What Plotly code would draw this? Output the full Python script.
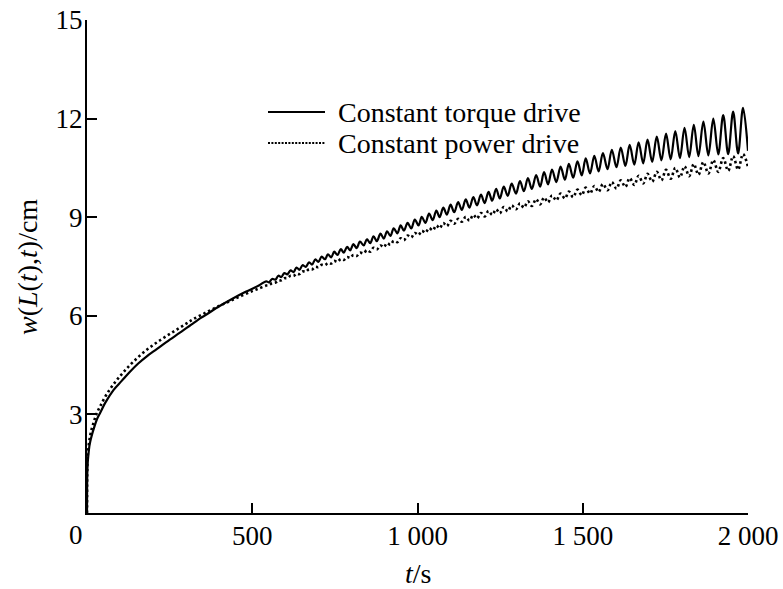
import plotly.graph_objects as go

# ---------------- data ----------------
# early, smooth part of each curve
t_start_torque = [0, 0.3, 0.6, 1, 2, 4, 7, 10, 15, 20, 30, 40, 55, 80, 105, 130, 155, 180,
                  210, 240, 280, 320, 342, 360, 400, 440, 480, 520]
w_start_torque = [0, 0.8, 1.05, 1.25, 1.5, 1.75, 2.02, 2.18, 2.38, 2.55, 2.85, 3.05, 3.35, 3.74,
                  4.02, 4.30, 4.55, 4.76, 4.98, 5.20, 5.48, 5.76, 5.92, 6.03, 6.29, 6.52, 6.73, 6.92]

t_start_power = [0, 0.3, 0.6, 1, 2, 4, 7, 10, 14, 20, 29, 40, 60, 85, 110, 140, 180, 220,
                 262, 300, 322, 360, 400, 433, 470, 500, 520]
w_start_power = [0, 0.9, 1.2, 1.45, 1.72, 1.95, 2.2, 2.37, 2.55, 2.75, 3.02, 3.25, 3.62, 3.98,
                 4.28, 4.6, 4.96, 5.25, 5.52, 5.76, 5.9, 6.1, 6.3, 6.45, 6.62, 6.75, 6.83]

# oscillating part: times of successive crests / troughs (shared by both curves)
t_wave = [542, 551, 560, 570, 579, 588, 597, 606, 616, 625, 634, 643, 652, 662, 672, 681, 691, 700,
          710, 720, 729, 739, 748, 758, 768, 777, 787, 796, 806, 816, 826, 837, 847, 857, 867, 877,
          888, 898, 908, 918, 928, 939, 949, 959, 970, 981, 992, 1003, 1013, 1024, 1035, 1046, 1057,
          1067, 1078, 1089, 1100, 1111, 1123, 1134, 1146, 1157, 1169, 1180, 1192, 1203, 1215, 1226,
          1238, 1249, 1261, 1273, 1285, 1298, 1310, 1322, 1334, 1346, 1359, 1371, 1383, 1395, 1407,
          1420, 1433, 1446, 1458, 1471, 1484, 1497, 1509, 1522, 1535, 1548, 1561, 1575, 1588, 1602,
          1615, 1629, 1642, 1656, 1669, 1683, 1696, 1710, 1724, 1738, 1752, 1766, 1780, 1794, 1808,
          1822, 1836, 1850, 1865, 1880, 1895, 1910, 1925, 1940, 1955, 1970, 1985, 2000]

w_wave_torque = [7.05, 7.02, 7.12, 7.10, 7.22, 7.18, 7.30, 7.26, 7.38, 7.33, 7.47, 7.40, 7.54, 7.49,
                 7.63, 7.56, 7.72, 7.64, 7.80, 7.72, 7.87, 7.78, 7.95, 7.85, 8.03, 7.92, 8.10, 7.99,
                 8.18, 8.06, 8.26, 8.14, 8.33, 8.21, 8.42, 8.27, 8.50, 8.35, 8.57, 8.43, 8.66, 8.51,
                 8.75, 8.59, 8.83, 8.66, 8.93, 8.75, 9.01, 8.83, 9.11, 8.91, 9.20, 9.00, 9.29, 9.08,
                 9.38, 9.15, 9.46, 9.22, 9.54, 9.29, 9.61, 9.36, 9.69, 9.43, 9.77, 9.50, 9.86, 9.57,
                 9.93, 9.65, 10.02, 9.72, 10.10, 9.79, 10.19, 9.86, 10.28, 9.93, 10.37, 10.00, 10.45,
                 10.07, 10.54, 10.14, 10.62, 10.20, 10.70, 10.27, 10.79, 10.33, 10.87, 10.39, 10.95,
                 10.46, 11.05, 10.52, 11.12, 10.56, 11.20, 10.60, 11.28, 10.64, 11.36, 10.68, 11.45,
                 10.73, 11.54, 10.76, 11.62, 10.80, 11.72, 10.83, 11.81, 10.86, 11.91, 10.88, 12.00,
                 10.91, 12.11, 10.92, 12.21, 10.94, 12.33, 11.02]

w_wave_power = [6.92, 6.94, 6.99, 7.01, 7.07, 7.08, 7.14, 7.15, 7.22, 7.21, 7.28, 7.27, 7.35, 7.34,
                7.42, 7.41, 7.49, 7.48, 7.55, 7.54, 7.61, 7.59, 7.67, 7.64, 7.73, 7.70, 7.79, 7.76,
                7.85, 7.82, 7.92, 7.90, 8.00, 7.95, 8.07, 8.02, 8.14, 8.09, 8.21, 8.16, 8.28, 8.24,
                8.36, 8.30, 8.44, 8.38, 8.52, 8.46, 8.59, 8.53, 8.67, 8.60, 8.75, 8.66, 8.82, 8.73,
                8.89, 8.80, 8.95, 8.86, 9.01, 8.90, 9.07, 8.96, 9.13, 9.02, 9.19, 9.07, 9.24, 9.12,
                9.31, 9.18, 9.36, 9.24, 9.42, 9.29, 9.48, 9.34, 9.55, 9.39, 9.60, 9.45, 9.66, 9.51,
                9.72, 9.57, 9.78, 9.61, 9.84, 9.67, 9.90, 9.72, 9.95, 9.77, 10.01, 9.82, 10.07, 9.87,
                10.12, 9.92, 10.19, 9.98, 10.26, 10.03, 10.32, 10.08, 10.38, 10.12, 10.44, 10.17,
                10.50, 10.21, 10.55, 10.25, 10.62, 10.29, 10.68, 10.33, 10.74, 10.38, 10.80, 10.41,
                10.86, 10.45, 10.92, 10.53]

assert len(t_wave) == len(w_wave_torque) == len(w_wave_power), (
    len(t_wave), len(w_wave_torque), len(w_wave_power))

series_names = ["Constant torque drive", "Constant power drive"]
x_tick_vals = [500, 1000, 1500, 2000]
x_tick_text = ["500", "1 000", "1 500", "2 000"]
y_tick_vals = [3, 6, 9, 12, 15]
y_tick_text = ["3", "6", "9", "12", "15"]

# ---------------- figure ----------------
FONT = "Liberation Serif, Times New Roman, serif"
W, H = 783, 589
# target plot box in screen pixels
X0, X1, Y0, Y1 = 87, 748, 20, 513
L, R, T, B = X0, W - X1, Y0, H - Y1
pw, ph = X1 - X0, Y1 - Y0


def px(x):
    return (x - X0) / pw


def py(y):
    return (Y1 - y) / ph


fig = go.Figure()
fig.add_trace(go.Scatter(
    x=t_start_torque + t_wave, y=w_start_torque + w_wave_torque,
    mode="lines", name=series_names[0],
    line=dict(color="black", width=2.2, shape="spline", smoothing=1.0),
    showlegend=False))
fig.add_trace(go.Scatter(
    x=t_start_power + t_wave, y=w_start_power + w_wave_power,
    mode="lines", name=series_names[1],
    line=dict(color="black", width=2.6, dash="2.4px,2.8px", shape="spline", smoothing=1.0),
    showlegend=False))

axis_common = dict(showline=True, linecolor="black", linewidth=2, ticks="inside",
                   ticklen=10, tickwidth=2, tickcolor="black", showgrid=False,
                   zeroline=False, automargin=False, ticklabeloverflow="allow",
                   tickfont=dict(family=FONT, size=27, color="black"))

fig.update_xaxes(range=[0, 2000], tickmode="array", tickvals=x_tick_vals,
                 ticktext=x_tick_text, ticklabelstandoff=-2, **axis_common)
fig.update_yaxes(range=[0, 15], tickmode="array", tickvals=y_tick_vals,
                 ticktext=y_tick_text, ticklabelstandoff=-3, **axis_common)

# legend drawn as sample lines + text
fig.add_shape(type="line", xref="paper", yref="paper", x0=px(268), x1=px(325),
              y0=py(112), y1=py(112), line=dict(color="black", width=2))
fig.add_shape(type="line", xref="paper", yref="paper", x0=px(268), x1=px(325),
              y0=py(143), y1=py(143), line=dict(color="black", width=2, dash="2px,1.4px"))

annots = [
    dict(text=series_names[0], x=px(336), y=py(112), xanchor="left", yanchor="middle"),
    dict(text=series_names[1], x=px(336), y=py(143), xanchor="left", yanchor="middle"),
    dict(text="0", x=px(76), y=py(535), xanchor="center", yanchor="middle"),
    dict(text="<i>t</i>/s", x=px(418), y=py(573), xanchor="center", yanchor="middle"),
    dict(text="<i>w</i>(<i>L</i>(<i>t</i>),<i>t</i>)/cm", x=px(27), y=py(267),
         xanchor="center", yanchor="middle", textangle=-90),
]
for a in annots:
    fig.add_annotation(xref="paper", yref="paper", showarrow=False,
                       font=dict(family=FONT, size=28 if a["text"] != "0" else 27,
                                 color="black"), **a)

fig.update_layout(width=W, height=H, margin=dict(l=L, r=R, t=T, b=B, pad=0, autoexpand=False),
                  paper_bgcolor="white", plot_bgcolor="white",
                  font=dict(family=FONT, color="black"))

# remove the browser's default page margin so the figure fills the window exactly
fig.write_html("out.html", config={"displayModeBar": False},
               post_script="document.body.style.margin='0';document.body.style.overflow='hidden';")
